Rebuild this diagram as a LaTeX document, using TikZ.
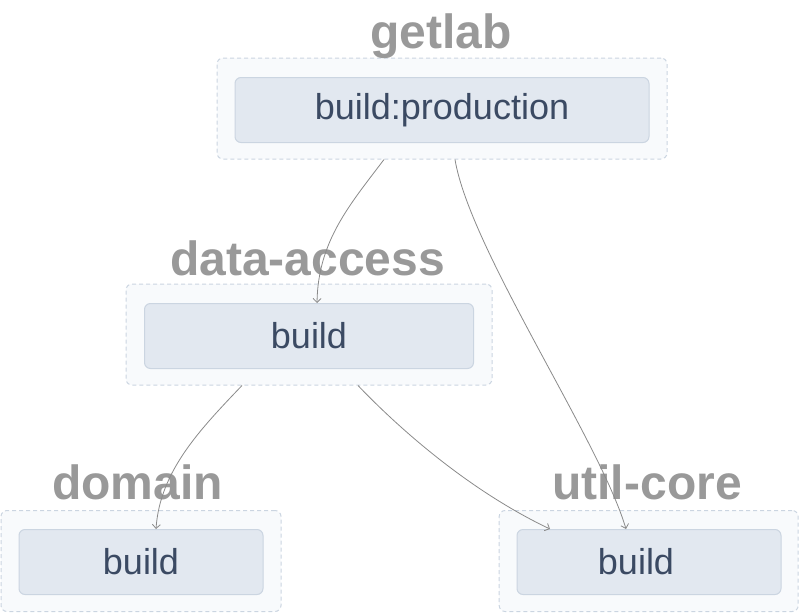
\documentclass[tikz,border=0pt]{standalone}
\usepackage{fontspec}
\setmainfont{Liberation Sans}
\usetikzlibrary{arrows.meta,calc}
\definecolor{clfill}{HTML}{F8FAFC}
\definecolor{clborder}{HTML}{CBD5E1}
\definecolor{ndfill}{HTML}{E2E8F0}
\definecolor{ndborder}{HTML}{CBD5E1}
\definecolor{ndtext}{HTML}{3B4A63}
\definecolor{titlegray}{HTML}{999999}
\definecolor{edgegray}{HTML}{8A8A8A}
\tikzset{
  cluster/.style={draw=clborder, fill=clfill, dashed, dash pattern=on 4pt off 3pt, line width=1pt, rounded corners=6pt, inner sep=0pt, minimum height=101pt},
  jobbox/.style={draw=ndborder, fill=ndfill, line width=1pt, rounded corners=6pt, inner sep=0pt, minimum height=65pt, text=ndtext, font=\fontsize{36}{40}\selectfont},
  cltitle/.style={anchor=base, text=titlegray, font=\fontsize{48}{52}\selectfont\bfseries, inner sep=0pt},
  dep/.style={draw=edgegray, line width=0.8pt, -{Straight Barb[length=4pt,width=8pt]}}
}
\begin{document}
\begin{tikzpicture}[x=1pt,y=-1pt]
\useasboundingbox (0,0) rectangle (800,613);
% clusters
\node[cluster, minimum width=450pt] (cg) at (442,108.5) {};
\node[cluster, minimum width=366pt] (cd) at (309,334.5) {};
\node[cluster, minimum width=280pt] (cm) at (141,561) {};
\node[cluster, minimum width=299pt] (cu) at (648.7,561) {};
% titles
\node[cltitle] (tg) at (441,48) {getlab};
\node[cltitle] (td) at (307.5,275) {data-access};
\node[cltitle] (tm) at (137.5,499) {domain};
\node[cltitle] (tu) at (647,499) {util-core};
% jobs
\node[jobbox, minimum width=414pt] (jg) at (442,110) {build:production};
\node[jobbox, minimum width=329pt] (jd) at (309,336) {build};
\node[jobbox, minimum width=244pt] (jm) at (141,562) {build};
\node[jobbox, minimum width=264pt] (ju) at (649,562) {\hspace*{-26pt}build};
% dependencies
\draw[dep] ([xshift=-58pt]cg.south) .. controls ([xshift=-92pt,yshift=-45pt]cg.south) and ([xshift=9pt,yshift=62pt]jd.north) .. ([xshift=8pt]jd.north);
\draw[dep] ([xshift=13pt]cg.south) .. controls ([xshift=28pt,yshift=-90pt]cg.south) and ([xshift=-49pt,yshift=88pt]ju.north) .. ([xshift=-23pt]ju.north);
\draw[dep] ([xshift=-67pt]cd.south) .. controls ([xshift=-109pt,yshift=-44pt]cd.south) and ([xshift=19pt,yshift=58pt]jm.north) .. ([xshift=15pt]jm.north);
\draw[dep] ([xshift=49pt]cd.south) .. controls ([xshift=91pt,yshift=-44pt]cd.south) and ([xshift=-179pt,yshift=38pt]ju.north) .. ([xshift=-99pt]ju.north);
\end{tikzpicture}
\end{document}
